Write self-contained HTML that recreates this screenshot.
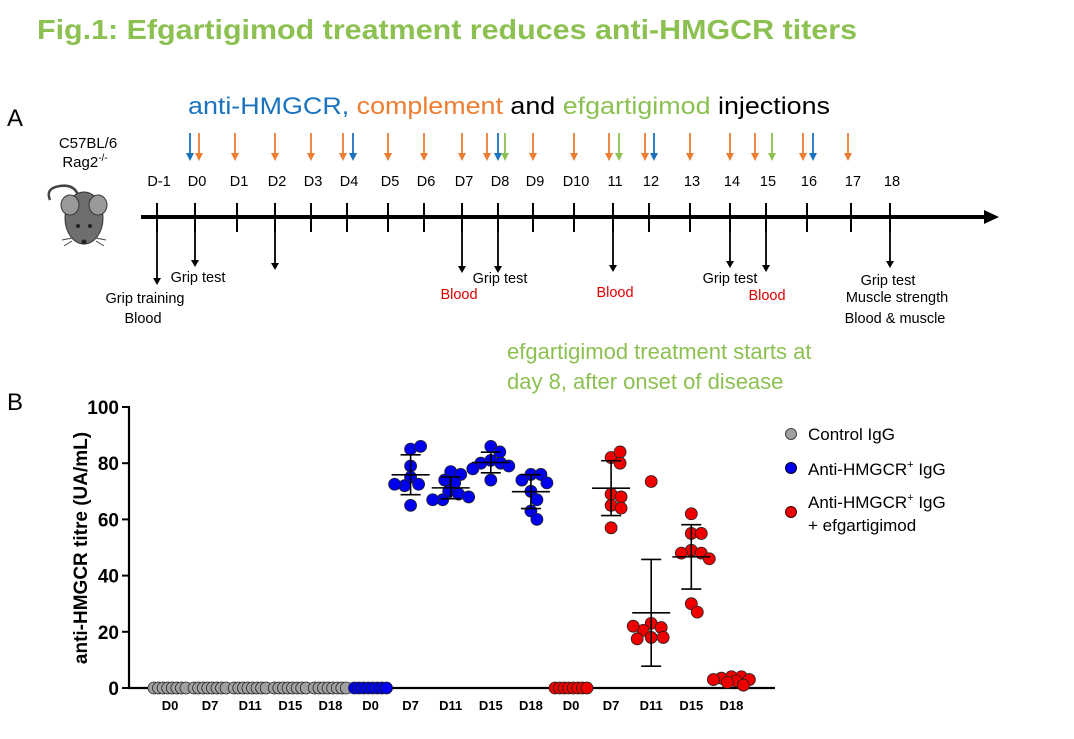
<!DOCTYPE html>
<html><head><meta charset="utf-8"><style>
html,body{margin:0;padding:0;background:#fff;}
svg{display:block;font-family:"Liberation Sans",sans-serif;}
</style></head><body>
<svg id="fig" width="1074" height="739" viewBox="0 0 1074 739">
<text x="37" y="39" font-size="28" font-weight="bold" fill="#8cc152" textLength="820" lengthAdjust="spacingAndGlyphs">Fig.1: Efgartigimod treatment reduces anti-HMGCR titers</text>
<text x="7" y="126" font-size="24">A</text>
<text x="188" y="114" font-size="24" textLength="642" lengthAdjust="spacingAndGlyphs"><tspan fill="#1b72be">anti-HMGCR,</tspan> <tspan fill="#ed7d31">complement</tspan> <tspan fill="#000">and</tspan> <tspan fill="#8cc152">efgartigimod</tspan> <tspan fill="#000">injections</tspan></text>
<text x="88" y="148" font-size="15" text-anchor="middle">C57BL/6</text>
<text x="85" y="167" font-size="15" text-anchor="middle">Rag2<tspan font-size="10" dy="-6">-/-</tspan></text>
<g>
<path d="M50,200 Q45,188 60,186 Q74,184 78,195" fill="none" stroke="#444" stroke-width="2.5"/>
<ellipse cx="84" cy="218" rx="19" ry="26" fill="#6e6e6e" stroke="#333"/>
<ellipse cx="70" cy="205" rx="9" ry="10" fill="#999" stroke="#333"/>
<ellipse cx="98" cy="205" rx="9" ry="10" fill="#999" stroke="#333"/>
<circle cx="78" cy="226" r="2" fill="#222"/><circle cx="90" cy="226" r="2" fill="#222"/>
<circle cx="84" cy="242" r="2.5" fill="#222"/>
<path d="M72,238 L62,240 M72,241 L64,246 M96,238 L106,240 M96,241 L104,246" stroke="#444" stroke-width="1"/>
</g>
<g id="timeline"></g>
<text x="7" y="410" font-size="24">B</text>
<text x="507" y="359" font-size="22" fill="#8cc152">efgartigimod treatment starts at</text>
<text x="507" y="389" font-size="22" fill="#8cc152">day 8, after onset of disease</text>
<g id="chart"></g>
<g>
<circle cx="791" cy="434" r="5.5" fill="#a0a0a0" stroke="#444"/>
<text x="808" y="440" font-size="17">Control IgG</text>
<circle cx="791" cy="468" r="5.5" fill="#0000ee" stroke="#002"/>
<text x="808" y="475" font-size="17">Anti-HMGCR<tspan font-size="11" dy="-7">+</tspan><tspan dy="7"> IgG</tspan></text>
<circle cx="791" cy="512" r="5.5" fill="#ee0000" stroke="#400"/>
<text x="808" y="508" font-size="17">Anti-HMGCR<tspan font-size="11" dy="-7">+</tspan><tspan dy="7"> IgG</tspan></text>
<text x="808" y="531" font-size="17">+ efgartigimod</text>
</g>
</svg>
<script>
var NS='http://www.w3.org/2000/svg';
function mk(p,t,a){var e=document.createElementNS(NS,t);for(var k in a)e.setAttribute(k,a[k]);p.appendChild(e);return e;}
// timeline data
var dayLabels=['D-1','D0','D1','D2','D3','D4','D5','D6','D7','D8','D9','D10','11','12','13','14','15','16','17','18'];
var dayPos=[157,195,237,275,311,347,388,424,462,498,533,574,613,649,690,730,766,807,851,890];
var inj=[[190,'#1b72be'],[199,'#ed7d31'],[235,'#ed7d31'],[275,'#ed7d31'],[311,'#ed7d31'],[343,'#ed7d31'],[353,'#1b72be'],[388,'#ed7d31'],[424,'#ed7d31'],[462,'#ed7d31'],[487,'#ed7d31'],[498,'#1b72be'],[505,'#8cc152'],[533,'#ed7d31'],[574,'#ed7d31'],[609,'#ed7d31'],[619,'#8cc152'],[645,'#ed7d31'],[654,'#1b72be'],[690,'#ed7d31'],[730,'#ed7d31'],[755,'#ed7d31'],[772,'#8cc152'],[803,'#ed7d31'],[813,'#1b72be'],[848,'#ed7d31']];
var down=[[157,205,285],[195,205,267],[275,205,270],[462,205,273],[498,205,273],[613,205,272],[730,205,268],[766,205,272],[890,205,268]];
var tl=document.getElementById('timeline');
var ax=mk(tl,'line',{x1:141,y1:217,x2:988,y2:217,stroke:'#000','stroke-width':4});

var ah=mk(tl,'path',{d:'M984,210 L999,217 L984,224 z',fill:'#000'});

dayLabels.forEach(function(l,i){
 var t=mk(tl,'line',{x1:dayPos[i],y1:203,x2:dayPos[i],y2:232,stroke:'#000','stroke-width':2});
 
 var tx=mk(tl,'text',{x:dayPos[i]+2,y:186,'font-size':14.5,'text-anchor':'middle'});tx.textContent=l;
 
});
inj.forEach(function(a){
 var l=mk(tl,'line',{x1:a[0],y1:133,x2:a[0],y2:155,stroke:a[1],'stroke-width':1.8});
 
 var h=mk(tl,'path',{d:'M'+(a[0]-4)+',153 L'+(a[0]+4)+',153 L'+a[0]+',161 z',fill:a[1]});
 
});
down.forEach(function(a){
 var l=mk(tl,'line',{x1:a[0],y1:a[1],x2:a[0],y2:a[2]-6,stroke:'#000','stroke-width':1.8});
 
 var h=mk(tl,'path',{d:'M'+(a[0]-4)+','+(a[2]-7)+' L'+(a[0]+4)+','+(a[2]-7)+' L'+a[0]+','+a[2]+' z',fill:'#000'});
 
});
var notes=[['Grip test',198,282,'#000'],['Grip training',145,303,'#000'],['Blood',143,323,'#000'],['Blood',459,299,'#e00000'],['Grip test',500,283,'#000'],['Blood',615,297,'#e00000'],['Grip test',730,283,'#000'],['Blood',767,300,'#e00000'],['Grip test',888,285,'#000'],['Muscle strength',897,302,'#000'],['Blood & muscle',895,323,'#000']];
notes.forEach(function(n){var t=mk(tl,'text',{x:n[1],y:n[2],'font-size':14.5,'text-anchor':'middle',fill:n[3]});t.textContent=n[0];
 });

// chart data
var categories=['D0','D7','D11','D15','D18','D0','D7','D11','D15','D18','D0','D7','D11','D15','D18'];
var groupColors=['#a0a0a0','#a0a0a0','#a0a0a0','#a0a0a0','#a0a0a0','#0000ee','#0000ee','#0000ee','#0000ee','#0000ee','#ee0000','#ee0000','#ee0000','#ee0000','#ee0000'];
var controlD0=[0,0,0,0,0,0,0,0];
var controlD7=[0,0,0,0,0,0,0,0];
var controlD11=[0,0,0,0,0,0,0,0];
var controlD15=[0,0,0,0,0,0,0,0];
var controlD18=[0,0,0,0,0,0,0,0];
var antiD0=[0,0,0,0,0,0,0,0];
var antiD7=[85,86,79,75,72.5,72,72.5,65];
var antiD11=[77,76,74,73,70,69,67,68,67];
var antiD15=[86,84,81,80,80,79,78,74];
var antiD18=[76,76,74,73,70,67,63,60];
var efgD0=[0,0,0,0,0,0,0,0];
var efgD7=[82,84,80,69,68,65,64,57];
var efgD11=[73.5,23,21.5,20.5,22,18,18,17.5];
var efgD15=[62,55,55,49,48,48,46,30,27];
var efgD18=[4,4,3.5,3,3,2.5,2,1];
var showErr=[false,false,false,false,false,false,true,true,true,true,false,true,true,true,false];
var yTicks=[0,20,40,60,80,100];
var series=[controlD0,controlD7,controlD11,controlD15,controlD18,antiD0,antiD7,antiD11,antiD15,antiD18,efgD0,efgD7,efgD11,efgD15,efgD18];

var ch=document.getElementById('chart');
function ys(v){return 688-v*2.81;}
function xs(i){return 170+i*40.1;}
var ya=mk(ch,'line',{x1:129,y1:ys(100)-1,x2:129,y2:689,stroke:'#000','stroke-width':2.2});

var xa=mk(ch,'line',{x1:128,y1:688,x2:775,y2:688,stroke:'#000','stroke-width':2.2});

yTicks.forEach(function(v){
 var t=mk(ch,'line',{x1:122,y1:ys(v),x2:129,y2:ys(v),stroke:'#000','stroke-width':2});
 
 var l=mk(ch,'text',{x:119,y:ys(v)+7,'font-size':19,'font-weight':'bold','text-anchor':'end'});l.textContent=v;
 
});
var yt=mk(ch,'text',{x:0,y:0,'font-size':19,'font-weight':'bold','text-anchor':'middle',transform:'translate(87,548) rotate(-90)'});
yt.textContent='anti-HMGCR titre (UA/mL)';

categories.forEach(function(c,i){
 var l=mk(ch,'text',{x:xs(i),y:710,'font-size':13,'font-weight':'bold','text-anchor':'middle'});l.textContent=c;
 
});
series.forEach(function(vals,gi){
 var cx=xs(gi);
 var n=vals.length,mean=vals.reduce(function(a,b){return a+b;},0)/n;
 var sd=Math.sqrt(vals.reduce(function(a,b){return a+(b-mean)*(b-mean);},0)/(n-1));
 var allZero=vals.every(function(v){return v===0;});
 var placed=[],minD=10,maxOff=18;
 vals.forEach(function(v,i){
  var y=ys(v),best=0,bestScore=-1;
  if(allZero){best=-16+i*32/(n-1);}
  else{
   for(var s=0;s<=2*maxOff;s++){
    var off=(s%2?1:-1)*Math.ceil(s/2);
    var md=placed.reduce(function(m,p){var dx=p[0]-off,dy=p[1]-y;return Math.min(m,Math.sqrt(dx*dx+dy*dy));},1e9);
    if(md>=minD){best=off;break;}
    if(md>bestScore){bestScore=md;best=off;}
   }
  }
  placed.push([best,y]);
  var c=mk(ch,'circle',{cx:cx+best,cy:y,r:6,fill:groupColors[gi],stroke:'#222','stroke-width':0.8});
  
 });
 if(showErr[gi]){
  var g=mk(ch,'g',{stroke:'#000','stroke-width':1.6});
  
  mk(g,'line',{x1:cx,y1:ys(mean+sd),x2:cx,y2:ys(mean-sd)});
  mk(g,'line',{x1:cx-19,y1:ys(mean),x2:cx+19,y2:ys(mean)});
  mk(g,'line',{x1:cx-10,y1:ys(mean+sd),x2:cx+10,y2:ys(mean+sd)});
  mk(g,'line',{x1:cx-10,y1:ys(mean-sd),x2:cx+10,y2:ys(mean-sd)});
 }
});
</script>
</body></html>
